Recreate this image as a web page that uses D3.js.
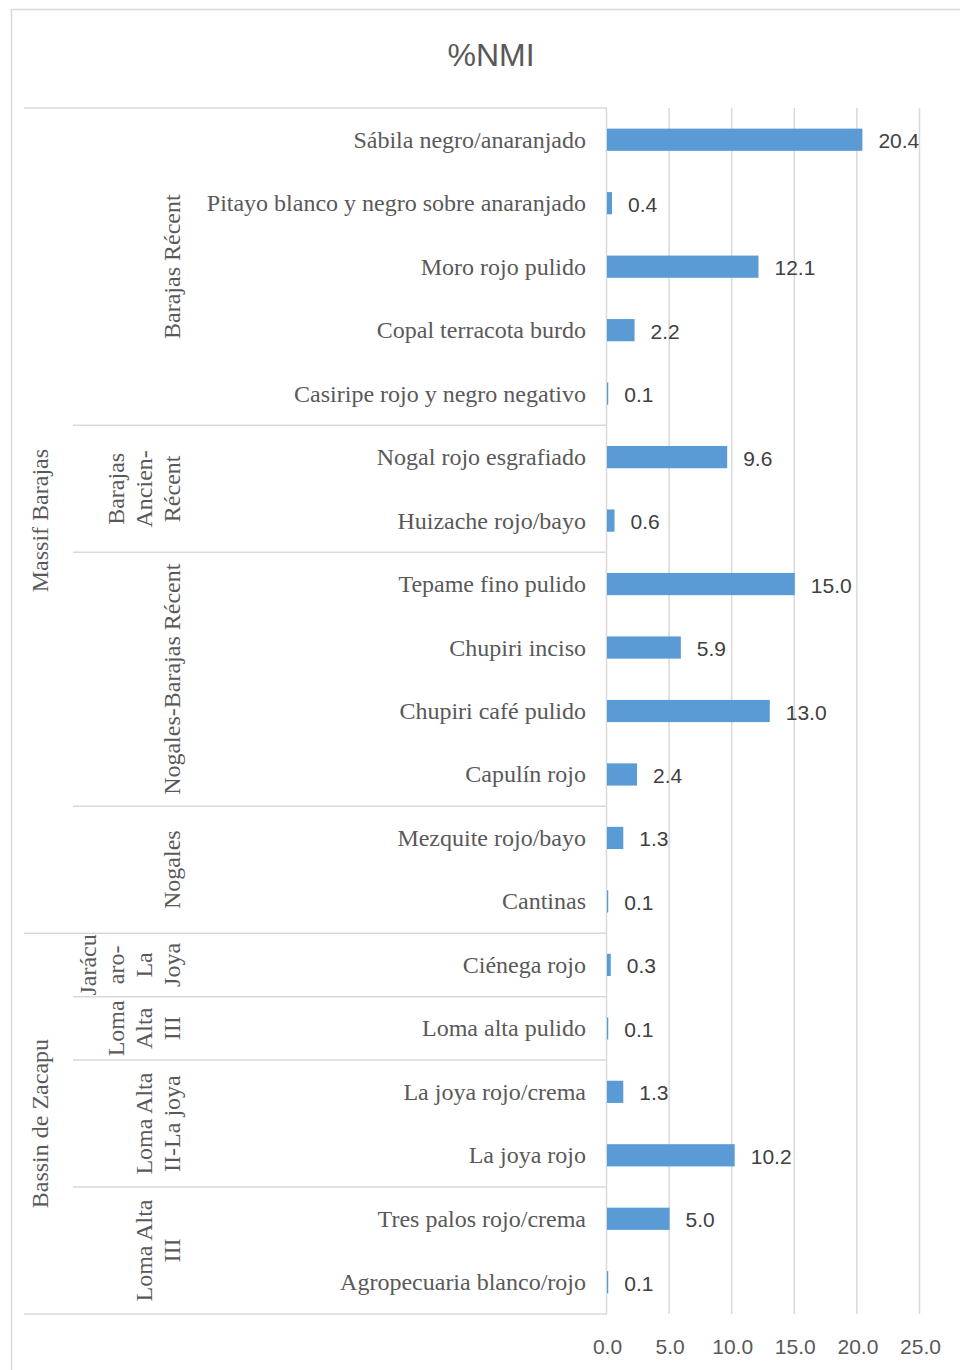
<!DOCTYPE html>
<html>
<head>
<meta charset="utf-8">
<script src="https://cdn.jsdelivr.net/npm/d3@7"></script>
<style>
  html, body { margin: 0; padding: 0; background: #fff; }
  svg { display: block; }
</style>
</head>
<body>
<svg id="chart" width="960" height="1370"></svg>
<script>
const title = "%NMI";
const categories = [
  "Sábila negro/anaranjado",
  "Pitayo blanco y negro sobre anaranjado",
  "Moro rojo pulido",
  "Copal terracota burdo",
  "Casiripe rojo y negro negativo",
  "Nogal rojo esgrafiado",
  "Huizache rojo/bayo",
  "Tepame fino pulido",
  "Chupiri inciso",
  "Chupiri café pulido",
  "Capulín rojo",
  "Mezquite rojo/bayo",
  "Cantinas",
  "Ciénega rojo",
  "Loma alta pulido",
  "La joya rojo/crema",
  "La joya rojo",
  "Tres palos rojo/crema",
  "Agropecuaria blanco/rojo"
];
const values = [20.4, 0.4, 12.1, 2.2, 0.1, 9.6, 0.6, 15.0, 5.9, 13.0, 2.4, 1.3, 0.1, 0.3, 0.1, 1.3, 10.2, 5.0, 0.1];
const phaseLabels = [
  ["Barajas Récent"],
  ["Barajas", "Ancien-", "Récent"],
  ["Nogales-Barajas Récent"],
  ["Nogales"],
  ["Jarácu", "aro-", "La", "Joya"],
  ["Loma", "Alta", "III"],
  ["Loma Alta", "II-La joya"],
  ["Loma Alta", "III"]
];
const phaseCounts = [5, 2, 4, 2, 1, 1, 2, 2];
const regionLabels = ["Massif Barajas", "Bassin de Zacapu"];
const regionCounts = [13, 6];
const xTicks = [0, 5, 10, 15, 20, 25];

const svg = d3.select("#chart");
const gridColor = "#d9d9d9";
const serif = "Liberation Serif, Times New Roman, serif";
const sans = "Liberation Sans, Arial, sans-serif";
const serifSize = 24;

// outer frame
svg.append("rect").attr("x", 11.5).attr("y", 9.5).attr("width", 960).attr("height", 1380)
  .attr("fill", "none").attr("stroke", gridColor).attr("stroke-width", 1.5);

svg.append("text").attr("x", 491).attr("y", 55).attr("text-anchor", "middle")
  .attr("dominant-baseline", "central")
  .attr("font-family", sans).attr("font-size", 32)
  .attr("fill", "#595959").text(title);

const yTop = 108, yBottom = 1314;
const x = d3.scaleLinear().domain([0, 25]).range([607, 920]);
const y = d3.scaleBand().domain(categories).range([yTop, yBottom]).paddingInner(0.65).paddingOuter(0.325);
const yRow = d3.scaleBand().domain(d3.range(categories.length)).range([yTop, yBottom]);

// gridlines
svg.append("g").selectAll("line").data(xTicks).join("line")
  .attr("x1", d => x(d) - 0.5).attr("x2", d => x(d) - 0.5)
  .attr("y1", yTop).attr("y2", yBottom)
  .attr("stroke", gridColor).attr("stroke-width", 1.5);

// axis tick labels
const xAxis = d3.axisBottom(x).tickValues(xTicks).tickFormat(d3.format(".1f")).tickSize(0).tickPadding(0);
const axG = svg.append("g").attr("transform", `translate(0, ${1346})`).call(xAxis);
axG.select(".domain").remove();
axG.selectAll("text").attr("font-family", sans)
  .attr("font-size", 21).attr("fill", "#595959").attr("dy", null)
  .attr("dominant-baseline", "central");

// bars
svg.append("g").selectAll("rect").data(values).join("rect")
  .attr("x", x(0))
  .attr("y", (d, i) => y(categories[i]))
  .attr("width", d => Math.max(1, x(d) - x(0)))
  .attr("height", y.bandwidth())
  .attr("fill", "#5b9bd5");

// value labels
svg.append("g").selectAll("text").data(values).join("text")
  .attr("x", d => x(d) + 16)
  .attr("y", (d, i) => y(categories[i]) + y.bandwidth() / 2 + 1)
  .attr("dominant-baseline", "central")
  .attr("font-family", sans).attr("font-size", 21)
  .attr("fill", "#404040")
  .text(d => d3.format(".1f")(d));

// category labels
svg.append("g").selectAll("text").data(categories).join("text")
  .attr("x", 586)
  .attr("y", (d, i) => yRow(i) + yRow.bandwidth() / 2)
  .attr("text-anchor", "end").attr("dominant-baseline", "central")
  .attr("font-family", serif).attr("font-size", serifSize)
  .attr("fill", "#595959")
  .text(d => d);

// table lines
const lines = svg.append("g").attr("stroke", gridColor).attr("stroke-width", 1.5);
lines.append("line").attr("x1", 24).attr("x2", 607).attr("y1", yTop).attr("y2", yTop);
let cum = 0;
const regionBounds = new Set();
let rc = 0;
regionCounts.forEach(c => { rc += c; regionBounds.add(rc); });
phaseCounts.forEach((c, i) => {
  const start = cum;
  cum += c;
  const yb = yRow(cum - 1) + yRow.bandwidth();
  lines.append("line").attr("x1", regionBounds.has(cum) ? 24 : 73).attr("x2", 607)
    .attr("y1", yb).attr("y2", yb);
  const cy = (yRow(start) + yb) / 2;
  const ls = phaseLabels[i];
  const lineH = 28;
  const lastX = 172;
  const t = svg.append("text")
    .attr("transform", `translate(${lastX - (ls.length - 1) * lineH}, ${cy}) rotate(-90)`)
    .attr("text-anchor", "middle")
    .attr("font-family", serif).attr("font-size", serifSize)
    .attr("fill", "#595959");
  ls.forEach((l, j) => {
    t.append("tspan").attr("x", 0).attr("y", j * lineH).attr("dominant-baseline", "central").text(l);
  });
});

// region labels
let rcum = 0;
regionCounts.forEach((c, i) => {
  const y0 = yRow(rcum);
  rcum += c;
  const y1 = yRow(rcum - 1) + yRow.bandwidth();
  svg.append("text")
    .attr("transform", `translate(40, ${(y0 + y1) / 2}) rotate(-90)`)
    .attr("text-anchor", "middle").attr("dominant-baseline", "central")
    .attr("font-family", serif).attr("font-size", serifSize)
    .attr("fill", "#595959")
    .text(regionLabels[i]);
});
</script>
</body>
</html>
